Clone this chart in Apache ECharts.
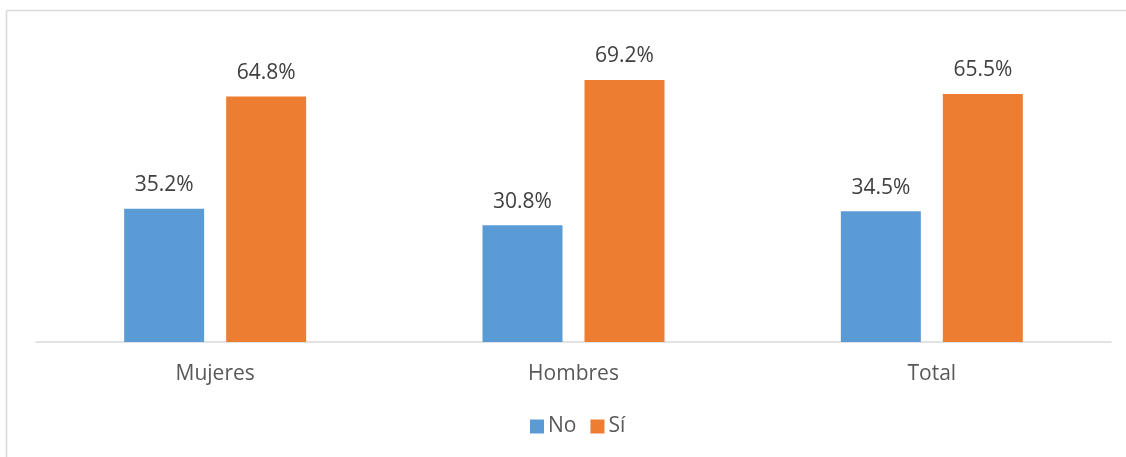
<!DOCTYPE html>
<html><head><meta charset="utf-8">
<script src="https://cdn.jsdelivr.net/npm/echarts@6/dist/echarts.min.js"></script>
<style>html,body{margin:0;padding:0;background:#fff}#c{width:1126px;height:457px}</style>
</head><body><div id="c"></div>
<script>
const categories = ['Mujeres', 'Hombres', 'Total'];
const seriesNo = [35.2, 30.8, 34.5];
const seriesSi = [64.8, 69.2, 65.5];
const seriesNames = ['No', 'Sí'];

const chart = echarts.init(document.getElementById('c'));
const font = '"Open Sans", sans-serif';
const lbl = {show: true, position: 'top', distance: 13, color: '#404040', fontSize: 21, fontFamily: font,
  formatter: p => p.value.toFixed(1) + '%'};
chart.setOption({
  animation: false,
  backgroundColor: '#fff',
  graphic: [
    {type: 'line', shape: {x1: 6.5, y1: 10.5, x2: 1126, y2: 10.5}, style: {stroke: '#D9D9D9', lineWidth: 1.5}},
    {type: 'line', shape: {x1: 6.5, y1: 10.5, x2: 6.5, y2: 457}, style: {stroke: '#D9D9D9', lineWidth: 1.5}}
  ],
  grid: {left: 36, right: 15, top: 39, bottom: 115},
  legend: {top: 411, left: 525, itemWidth: 14, itemHeight: 14, itemGap: 14, icon: 'rect',
    textStyle: {fontSize: 21, color: '#595959', fontFamily: font, padding: [0, 0, 0, -1]},
    data: seriesNames},
  xAxis: {type: 'category', data: categories,
    axisLine: {lineStyle: {color: '#D9D9D9', width: 1.5}}, axisTick: {show: false},
    axisLabel: {color: '#595959', fontSize: 21, fontFamily: font, margin: 22}},
  yAxis: {type: 'value', min: 0, max: 80, show: false, splitLine: {show: false}},
  series: [
    {name: seriesNames[0], type: 'bar', data: seriesNo, barWidth: 80, barGap: '27.5%',
      itemStyle: {color: '#5B9BD5'}, label: lbl},
    {name: seriesNames[1], type: 'bar', data: seriesSi, barWidth: 80,
      itemStyle: {color: '#ED7D31'}, label: lbl}
  ]
});
</script></body></html>
